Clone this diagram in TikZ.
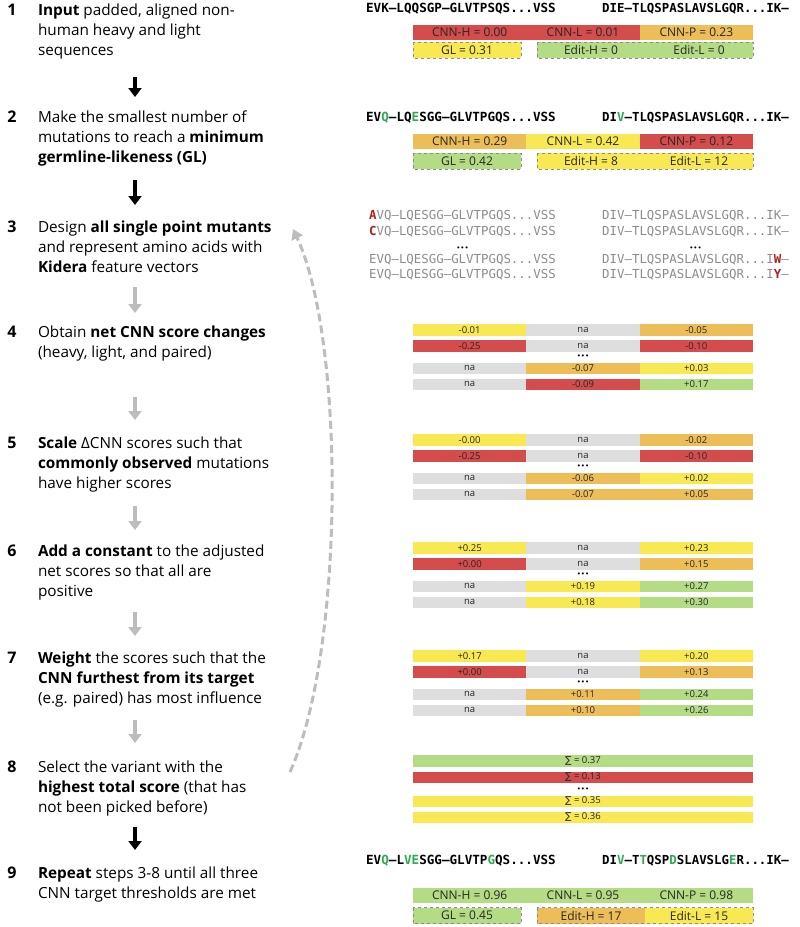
\documentclass[tikz,border=0pt]{standalone}
\usepackage{fontspec}
\setmainfont{Open Sans}
\newfontfamily\seqfont{DejaVu Sans Mono}
\newfontfamily\sumfont{DejaVu Sans}
\usetikzlibrary{arrows.meta}

\definecolor{cnnred}{HTML}{D54C4C}
\definecolor{cnnorange}{HTML}{EDBE58}
\definecolor{cnnyellow}{HTML}{F8E852}
\definecolor{cnngreen}{HTML}{B3DC84}
\definecolor{cnngrey}{HTML}{DEDEDE}
\definecolor{mutgreen}{HTML}{2EAA55}
\definecolor{mutred}{HTML}{B01E1E}
\definecolor{seqgrey}{HTML}{8C8C8C}
\definecolor{arrowgrey}{HTML}{BDBDBD}

\newcommand{\mg}[1]{\textcolor{mutgreen}{#1}}
\newcommand{\mr}[1]{\textcolor{mutred}{\bfseries #1}}
% style, name, top, then fill/text for heavy, light, paired
\newcommand{\cellrow}[9]{%
  \node[#1, fill=#4] (#2a) at (413,#3) {#5};
  \node[#1, fill=#6] (#2b) at (526.33,#3) {#7};
  \node[#1, fill=#8] (#2c) at (639.67,#3) {#9};}

\begin{document}
\begin{tikzpicture}[x=1pt, y=-1pt,
    stepnum/.style={font=\fontsize{16}{20}\selectfont\bfseries, anchor=base, inner sep=0},
    steptext/.style={font=\fontsize{15.3}{20}\selectfont, align=left, anchor=north west, inner sep=0, outer sep=0},
    heavyseq/.style={font=\seqfont\fontsize{12.6}{14}\selectfont\bfseries, anchor=base east, inner sep=0},
    lightseq/.style={font=\seqfont\fontsize{12.4}{14}\selectfont\bfseries, anchor=base west, inner sep=0},
    mutseq/.style={font=\seqfont\fontsize{12.4}{14}\selectfont, text=seqgrey, inner sep=0},
    cnn/.style={minimum width=113.33pt, minimum height=15pt, inner sep=0, outer sep=0, anchor=north west, font=\fontsize{12}{13}\selectfont, text=black!85},
    editbox/.style={cnn, minimum width=108pt, minimum height=16pt},
    cell/.style={minimum width=113.33pt, minimum height=11.5pt, inner sep=0, outer sep=0, anchor=north west, font=\fontsize{9.5}{10}\selectfont, text=black!85},
    sumcell/.style={cell, minimum width=340pt},
    ellip/.style={font=\sumfont\fontsize{7}{7}\selectfont, inner sep=0},
    dashbox/.style={draw=black!45, dashed, line width=0.6pt},
    blkarrow/.style={line width=4pt, -{Triangle[width=13pt,length=9pt]}},
    greyarrow/.style={blkarrow, arrowgrey},
    loopback/.style={arrowgrey, line width=3pt, dash pattern=on 8pt off 4pt, -{Triangle[width=12pt,length=10pt]}}
  ]
    \useasboundingbox (0,0) rectangle (800,927);

    % steps
    \node[stepnum] (n1) at (12,15) {1};
    \node[steptext] (t1) at (38,1) {\strut\textbf{Input} padded, aligned non-\\human heavy and light\\sequences\strut};
    \node[stepnum] (n2) at (12,122) {2};
    \node[steptext] (t2) at (38,108) {\strut Make the smallest number of\\mutations to reach a \textbf{minimum}\\\textbf{germline-likeness (GL)}\strut};
    \node[stepnum] (n3) at (12,232) {3};
    \node[steptext] (t3) at (38,218) {\strut Design \textbf{all single point mutants}\\and represent amino acids with\\\textbf{Kidera} feature vectors\strut};
    \node[stepnum] (n4) at (12,337) {4};
    \node[steptext] (t4) at (38,323) {\strut Obtain \textbf{net CNN score changes}\\(heavy, light, and paired)\strut};
    \node[stepnum] (n5) at (12,448) {5};
    \node[steptext] (t5) at (38,434) {\strut\textbf{Scale} ΔCNN scores such that\\\textbf{commonly observed} mutations\\have higher scores\strut};
    \node[stepnum] (n6) at (12,556) {6};
    \node[steptext] (t6) at (38,542) {\strut\textbf{Add a constant} to the adjusted\\net scores so that all are\\positive\strut};
    \node[stepnum] (n7) at (12,663) {7};
    \node[steptext] (t7) at (38,649) {\strut\textbf{Weight} the scores such that the\\\textbf{CNN furthest from its target}\\(e.g. paired) has most influence\strut};
    \node[stepnum] (n8) at (12,772) {8};
    \node[steptext] (t8) at (38,758) {\strut Select the variant with the\\\textbf{highest total score} (that has\\not been picked before)\strut};
    \node[stepnum] (n9) at (12,878) {9};
    \node[steptext] (t9) at (38,864) {\strut\textbf{Repeat} steps 3-8 until all three\\CNN target thresholds are met\strut};

    % arrows between steps
    \coordinate (ax) at (135,0);
    \draw[blkarrow, shorten <=16pt, shorten >=11pt] (t1.south -| ax) -- (t2.north -| ax);
    \draw[blkarrow, shorten <=12pt, shorten >=13pt] (t2.south -| ax) -- (t3.north -| ax);
    \draw[greyarrow, shorten <=9pt, shorten >=10pt] (t3.south -| ax) -- (t4.north -| ax);
    \draw[greyarrow, shorten <=34pt, shorten >=14pt] (t4.south -| ax) -- (t5.north -| ax);
    \draw[greyarrow, shorten <=12pt, shorten >=12pt] (t5.south -| ax) -- (t6.north -| ax);
    \draw[greyarrow, shorten <=10pt, shorten >=13pt] (t6.south -| ax) -- (t7.north -| ax);
    \draw[greyarrow, shorten <=11pt, shorten >=15pt] (t7.south -| ax) -- (t8.north -| ax);
    \draw[blkarrow, shorten <=9pt, shorten >=14pt] (t8.south -| ax) -- (t9.north -| ax);

    % loop back from 8 to 3
    \coordinate (back8) at (290,772);
    \coordinate (back3) at (293,229);
    \draw[loopback] (back8) .. controls (345,650) and (345,340) .. (back3);

    % step 1: input
    \node[heavyseq] (h1) at (556,12.5) {EVK–LQQSGP–GLVTPSQS...VSS};
    \node[lightseq] (l1) at (602,12.5) {DIE–TLQSPASLAVSLGQR...IK–};
    \cellrow{cnn}{c1}{24.5}{cnnred}{CNN-H = 0.00}{cnnred}{CNN-L = 0.01}{cnnorange}{CNN-P = 0.23}
    \node[editbox, fill=cnnyellow] (gl1) at (413,42) {GL = 0.31};
    \node[editbox, fill=cnngreen] (eh1) at (537,42) {Edit-H = 0};
    \node[editbox, fill=cnngreen] (el1) at (645,42) {Edit-L = 0};
    \draw[dashbox] (gl1.north west) rectangle (gl1.south east);
    \draw[dashbox] (eh1.north west) rectangle (el1.south east);

    % step 2: germline
    \node[heavyseq] (h2) at (556,121.5) {EV\mg{Q}–LQ\mg{E}SGG–GLVTPGQS...VSS};
    \node[lightseq] (l2) at (602,121.5) {DI\mg{V}–TLQSPASLAVSLGQR...IK–};
    \cellrow{cnn}{c2}{134}{cnnorange}{CNN-H = 0.29}{cnnyellow}{CNN-L = 0.42}{cnnred}{CNN-P = 0.12}
    \node[editbox, fill=cnngreen] (gl2) at (413,153) {GL = 0.42};
    \node[editbox, fill=cnnyellow] (eh2) at (537,153) {Edit-H = 8};
    \node[editbox, fill=cnnyellow] (el2) at (645,153) {Edit-L = 12};
    \draw[dashbox] (gl2.north west) rectangle (gl2.south east);
    \draw[dashbox] (eh2.north west) rectangle (el2.south east);

    % step 3: single point mutants
    \node[mutseq, anchor=base east] (h3a) at (556,219.5) {\mr{A}VQ–LQESGG–GLVTPGQS...VSS};
    \node[mutseq, anchor=base east] (h3b) at (556,235.5) {\mr{C}VQ–LQESGG–GLVTPGQS...VSS};
    \node[mutseq, anchor=base east] (h3c) at (556,263.5) {EVQ–LQESGG–GLVTPGQS...VSS};
    \node[mutseq, anchor=base east] (h3d) at (556,278.5) {EVQ–LQESGG–GLVTPGQS...VSS};
    \node[mutseq, anchor=base west] (l3a) at (602,219.5) {DIV–TLQSPASLAVSLGQR...IK–};
    \node[mutseq, anchor=base west] (l3b) at (602,235.5) {DIV–TLQSPASLAVSLGQR...IK–};
    \node[mutseq, anchor=base west] (l3c) at (602,263.5) {DIV–TLQSPASLAVSLGQR...I\mr{W}–};
    \node[mutseq, anchor=base west] (l3d) at (602,278.5) {DIV–TLQSPASLAVSLGQR...I\mr{Y}–};
    \node[ellip] (h3dots) at (h3b.south |- 0,249) {•••};
    \node[ellip] (l3dots) at (l3b.south |- 0,249) {•••};

    % step 4: net score changes
    \cellrow{cell}{r4p}{324}{cnnyellow}{-0.01}{cnngrey}{na}{cnnorange}{-0.05}
    \cellrow{cell}{r4q}{340}{cnnred}{-0.25}{cnngrey}{na}{cnnred}{-0.10}
    \node[ellip] (d4) at (583,357) {•••};
    \cellrow{cell}{r4r}{362.5}{cnngrey}{na}{cnnorange}{-0.07}{cnnyellow}{+0.03}
    \cellrow{cell}{r4s}{378.5}{cnngrey}{na}{cnnred}{-0.09}{cnngreen}{+0.17}

    % step 5: scaled
    \cellrow{cell}{r5p}{434}{cnnyellow}{-0.00}{cnngrey}{na}{cnnorange}{-0.02}
    \cellrow{cell}{r5q}{450}{cnnred}{-0.25}{cnngrey}{na}{cnnred}{-0.10}
    \node[ellip] (d5) at (583,467) {•••};
    \cellrow{cell}{r5r}{472.5}{cnngrey}{na}{cnnorange}{-0.06}{cnnyellow}{+0.02}
    \cellrow{cell}{r5s}{488.5}{cnngrey}{na}{cnnorange}{-0.07}{cnnorange}{+0.05}

    % step 6: constant added
    \cellrow{cell}{r6p}{542}{cnnyellow}{+0.25}{cnngrey}{na}{cnnyellow}{+0.23}
    \cellrow{cell}{r6q}{558}{cnnred}{+0.00}{cnngrey}{na}{cnnorange}{+0.15}
    \node[ellip] (d6) at (583,575) {•••};
    \cellrow{cell}{r6r}{580.5}{cnngrey}{na}{cnnyellow}{+0.19}{cnngreen}{+0.27}
    \cellrow{cell}{r6s}{596.5}{cnngrey}{na}{cnnyellow}{+0.18}{cnngreen}{+0.30}

    % step 7: weighted
    \cellrow{cell}{r7p}{650}{cnnyellow}{+0.17}{cnngrey}{na}{cnnyellow}{+0.20}
    \cellrow{cell}{r7q}{666}{cnnred}{+0.00}{cnngrey}{na}{cnnorange}{+0.13}
    \node[ellip] (d7) at (583,683) {•••};
    \cellrow{cell}{r7r}{688.5}{cnngrey}{na}{cnnorange}{+0.11}{cnngreen}{+0.24}
    \cellrow{cell}{r7s}{704.5}{cnngrey}{na}{cnnorange}{+0.10}{cnngreen}{+0.26}

    % step 8: totals
    \node[sumcell, fill=cnngreen] (s8p) at (413,755) {{\sumfont ∑} = 0.37};
    \node[sumcell, fill=cnnred] (s8q) at (413,771.5) {{\sumfont ∑} = 0.13};
    \node[ellip] (d8) at (583,790) {•••};
    \node[sumcell, fill=cnnyellow] (s8r) at (413,795.5) {{\sumfont ∑} = 0.35};
    \node[sumcell, fill=cnnyellow] (s8s) at (413,811.5) {{\sumfont ∑} = 0.36};

    % step 9: result
    \node[heavyseq] (h9) at (556,864.5) {EV\mg{Q}–L\mg{V}\mg{E}SGG–GLVTP\mg{G}QS...VSS};
    \node[lightseq] (l9) at (602,864.5) {DI\mg{V}–T\mg{T}QSP\mg{D}SLAVSLG\mg{E}R...IK–};
    \cellrow{cnn}{c9}{887.5}{cnngreen}{CNN-H = 0.96}{cnngreen}{CNN-L = 0.95}{cnngreen}{CNN-P = 0.98}
    \node[editbox, fill=cnngreen] (gl9) at (413,907.5) {GL = 0.45};
    \node[editbox, fill=cnnorange] (eh9) at (537,907.5) {Edit-H = 17};
    \node[editbox, fill=cnnyellow] (el9) at (645,907.5) {Edit-L = 15};
    \draw[dashbox] (gl9.north west) rectangle (gl9.south east);
    \draw[dashbox] (eh9.north west) rectangle (el9.south east);
\end{tikzpicture}
\end{document}
